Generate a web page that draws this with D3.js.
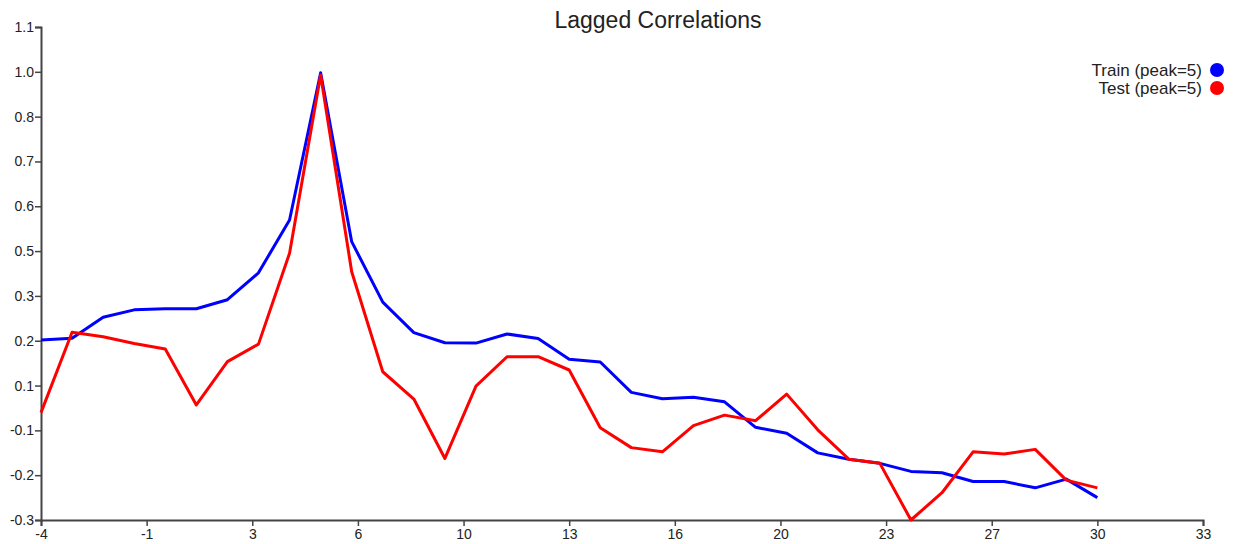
<!DOCTYPE html>
<html>
<head>
<meta charset="utf-8">
<script src="https://cdn.jsdelivr.net/npm/d3@7"></script>
<style>
  html, body { margin: 0; padding: 0; background: #fff; }
  svg { display: block; font-family: "Liberation Sans", Arial, sans-serif; }
</style>
</head>
<body>
<svg id="chart" width="1233" height="544"></svg>
<script>
const lags = [-4,-3,-2,-1,0,1,2,3,4,5,6,7,8,9,10,11,12,13,14,15,16,17,18,19,20,21,22,23,24,25,26,27,28,29,30];
const trainCorr = [0.205,0.210,0.270,0.291,0.294,0.294,0.320,0.397,0.548,0.969,0.486,0.313,0.226,0.197,0.196,0.222,0.209,0.150,0.142,0.055,0.037,0.041,0.028,-0.045,-0.062,-0.118,-0.136,-0.148,-0.171,-0.175,-0.200,-0.200,-0.218,-0.193,-0.246];
const testCorr = [-0.003,0.227,0.214,0.195,0.179,0.019,0.143,0.193,0.453,0.963,0.400,0.114,0.036,-0.134,0.073,0.157,0.157,0.119,-0.046,-0.103,-0.115,-0.040,-0.010,-0.026,0.050,-0.052,-0.136,-0.148,-0.310,-0.232,-0.115,-0.121,-0.108,-0.196,-0.218];
const xDomain = [-4, 33.4];
const yDomain = [-0.31, 1.1];
const xTickLabels = ["-4","-1","3","6","10","13","16","20","23","27","30","33"];
const yTickLabels = ["-0.3","-0.2","-0.1","0.1","0.2","0.3","0.5","0.6","0.7","0.8","1.0","1.1"];
const seriesNames = ["Train (peak=5)", "Test (peak=5)"];
const seriesColors = ["#0000ff", "#ff0000"];
const title = "Lagged Correlations";

const W = 1233, H = 544;
const margin = {top: 27, right: 30, bottom: 24, left: 41};
const svg = d3.select("#chart");

const x = d3.scaleLinear().domain(xDomain).range([margin.left, W - margin.right]);
const y = d3.scaleLinear().domain(yDomain).range([H - margin.bottom, margin.top]);

const nT = xTickLabels.length;
const xTicks = xTickLabels.map((_, i) => xDomain[0] + i * (xDomain[1] - xDomain[0]) / (nT - 1));
const yTicks = yTickLabels.map((_, i) => yDomain[0] + i * (yDomain[1] - yDomain[0]) / (yTickLabels.length - 1));

const xAxis = d3.axisBottom(x).tickValues(xTicks).tickFormat((d, i) => xTickLabels[i]).tickSize(6).tickPadding(3);
const yAxis = d3.axisLeft(y).tickValues(yTicks).tickFormat((d, i) => yTickLabels[i]).tickSize(6).tickPadding(1);

const gx = svg.append("g").attr("transform", `translate(0,${H - margin.bottom})`).call(xAxis);
const gy = svg.append("g").attr("transform", `translate(${margin.left},0)`).call(yAxis);
[gx, gy].forEach(g => {
  g.selectAll("path.domain").attr("stroke", "#444").attr("stroke-width", 2);
  g.selectAll(".tick line").attr("stroke", "#444").attr("stroke-width", 1.5);
  g.selectAll(".tick text").attr("fill", "#222").style("font-size", "14px").style("font-family", "'Liberation Sans', Arial, sans-serif");
});

const line = d3.line().x((d, i) => x(lags[i])).y(d => y(d));
[trainCorr, testCorr].forEach((s, k) => {
  svg.append("path").datum(s)
    .attr("fill", "none")
    .attr("stroke", seriesColors[k])
    .attr("stroke-width", 3)
    .attr("stroke-linejoin", "round")
    .attr("d", line);
});

svg.append("text")
  .attr("x", 658).attr("y", 28)
  .attr("text-anchor", "middle")
  .attr("fill", "#222")
  .style("font-size", "23px")
  .text(title);

const legend = svg.append("g");
seriesNames.forEach((name, k) => {
  const cy = 70 + k * 18;
  legend.append("circle").attr("cx", 1217).attr("cy", cy).attr("r", 7).attr("fill", seriesColors[k]);
  legend.append("text").attr("x", 1202).attr("y", cy + 5.5)
    .attr("text-anchor", "end").attr("fill", "#222")
    .style("font-size", "17px").text(name);
});
</script>
</body>
</html>
